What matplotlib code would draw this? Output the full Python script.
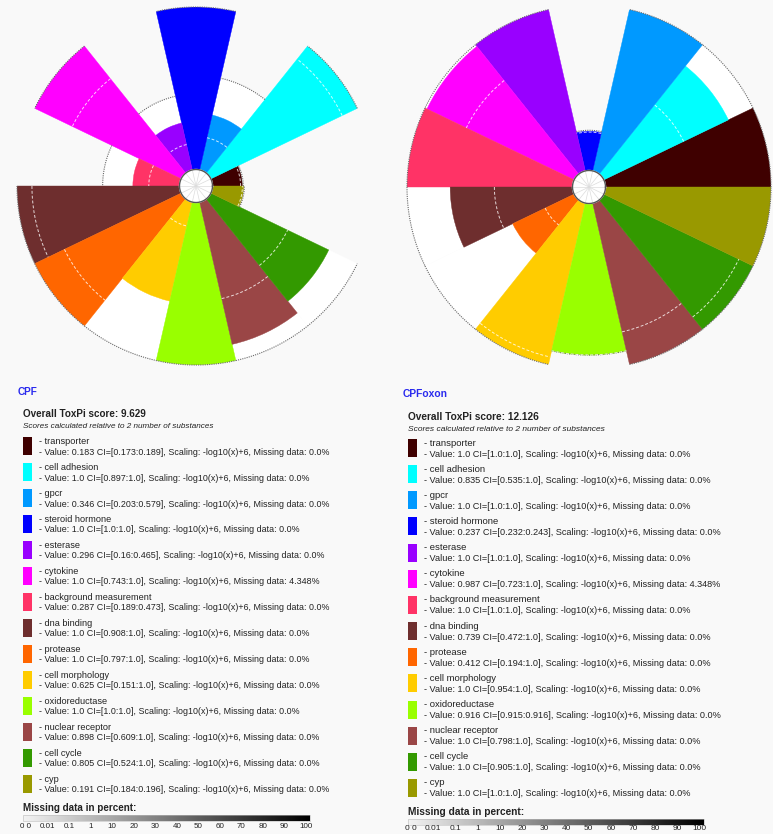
import numpy as np
import matplotlib
matplotlib.use("Agg")
import matplotlib.pyplot as plt

plt.rcParams['font.family'] = ['Liberation Sans', 'DejaVu Sans']

categories = ['transporter', 'cell adhesion', 'gpcr', 'steroid hormone', 'esterase',
              'cytokine', 'background measurement', 'dna binding', 'protease',
              'cell morphology', 'oxidoreductase', 'nuclear receptor', 'cell cycle', 'cyp']
colors = ['#3f0000', '#00ffff', '#0099ff', '#0000ff', '#9900ff', '#ff00ff', '#ff3366',
          '#6e2e2e', '#ff6600', '#ffcc00', '#99ff00', '#9a4646', '#339900', '#999900']

cpf_value = [0.183, 1.0, 0.346, 1.0, 0.296, 1.0, 0.287, 1.0, 1.0, 0.625, 1.0, 0.898, 0.805, 0.191]
cpf_lo = [0.173, 0.897, 0.203, 1.0, 0.16, 0.743, 0.189, 0.908, 0.797, 0.151, 1.0, 0.609, 0.524, 0.184]
cpf_hi = [0.189, 1.0, 0.579, 1.0, 0.465, 1.0, 0.473, 1.0, 1.0, 1.0, 1.0, 1.0, 1.0, 0.196]
cpf_missing = [0.0, 0.0, 0.0, 0.0, 0.0, 4.348, 0.0, 0.0, 0.0, 0.0, 0.0, 0.0, 0.0, 0.0]

oxon_value = [1.0, 0.835, 1.0, 0.237, 1.0, 0.987, 1.0, 0.739, 0.412, 1.0, 0.916, 1.0, 1.0, 1.0]
oxon_lo = [1.0, 0.535, 1.0, 0.232, 1.0, 0.723, 1.0, 0.472, 0.194, 0.954, 0.915, 0.798, 0.905, 1.0]
oxon_hi = [1.0, 1.0, 1.0, 0.243, 1.0, 1.0, 1.0, 1.0, 1.0, 1.0, 0.916, 1.0, 1.0, 1.0]
oxon_missing = [0.0, 0.0, 0.0, 0.0, 0.0, 4.348, 0.0, 0.0, 0.0, 0.0, 0.0, 0.0, 0.0, 0.0]

names = ['CPF', 'CPFoxon']
scores = ['9.629', '12.126']
bar_labels = ['0 0', '0.01', '0.1', '1', '10', '20', '30', '40', '50', '60', '70', '80', '90', '100']

W, H = 773, 834
fig = plt.figure(figsize=(W / 100, H / 100), dpi=100)
fig.patch.set_facecolor('#f9f9f9')

n = len(categories)
step = 2 * np.pi / n
theta = np.arange(n) * step + step / 2


def toxpi(cx, cy, R, value, lo, hi):
    ax = fig.add_axes([(cx - R) / W, (H - cy - R) / H, 2 * R / W, 2 * R / H], projection='polar')
    r0 = 16.5 / R
    scale = 1 - r0
    ax.set_ylim(0, 1)
    ax.set_axis_off()
    # white area up to the upper CI, coloured slice up to the value
    ax.bar(theta, np.array(hi) * scale, width=step, bottom=r0, color='white',
           edgecolor='white', linewidth=0.3)
    ax.bar(theta, np.array(value) * scale, width=step, bottom=r0, color=colors,
           edgecolor=colors, linewidth=0.3)
    for i in range(n):
        t = np.linspace(i * step, (i + 1) * step, 40)
        ax.plot(t, np.full_like(t, r0 + hi[i] * scale), color='#6a6a6a', lw=0.8,
                ls=(0, (1, 1)), clip_on=False)
        if lo[i] < value[i]:
            ax.plot(t, np.full_like(t, r0 + lo[i] * scale), color='white', lw=0.7,
                    ls=(0, (3, 2)), alpha=0.8)
    tc = np.linspace(0, 2 * np.pi, 100)
    ax.fill(tc, np.full_like(tc, r0), color='white', zorder=3)
    for i in range(n):
        ax.plot([i * step, i * step], [0, r0], color='#dcdcdc', lw=0.5, zorder=4)
    ax.plot(tc, np.full_like(tc, r0), color='#555555', lw=1.0, zorder=5)


toxpi(196, 186, 179, cpf_value, cpf_lo, cpf_hi)
toxpi(589, 187, 182, oxon_value, oxon_lo, oxon_hi)

tx = fig.add_axes([0, 0, 1, 1])
tx.set_xlim(0, W)
tx.set_ylim(H, 0)
tx.set_axis_off()


def legend(x0, y0, k, dy, name, score, value, lo, hi, missing, fs, lab_off):
    tc = '#222222'
    tx.text(x0 - 5, y0, name, color='#2a2aee', fontsize=7.2 * k, fontweight='bold', va='center')
    tx.text(x0, y0 + 22 * k, 'Overall ToxPi score: ' + score, color=tc, fontsize=7.1 * k,
            fontweight='bold', va='center')
    tx.text(x0, y0 + 34.5 * k, 'Scores calculated relative to 2 number of substances',
            color=tc, fontsize=5.9 * k, style='italic', va='center')
    ys = y0 + 49
    for i in range(n):
        y = ys + i * dy
        tx.add_patch(plt.Rectangle((x0, y - 4), 8.5, 18, facecolor=colors[i], edgecolor='none'))
        tx.text(x0 + 16, y, '- ' + categories[i], color=tc, fontsize=fs + 0.2, va='center')
        tx.text(x0 + 16, y + 11, f'- Value: {value[i]} CI=[{lo[i]}:{hi[i]}], Scaling: '
                f'-log10(x)+6, Missing data: {missing[i]}%', color=tc, fontsize=fs, va='center')
    ym = ys + 13 * dy + 29
    tx.text(x0, ym, 'Missing data in percent:', color=tc, fontsize=7.1 * k,
            fontweight='bold', va='center')
    x1 = x0 + 287 * k
    grad = np.linspace(0, 1, 256).reshape(1, -1)
    tx.imshow(grad, cmap='gray_r', extent=[x0, x1, ym + 13, ym + 7], aspect='auto',
              vmin=-0.05, vmax=1)
    tx.add_patch(plt.Rectangle((x0, ym + 7), x1 - x0, 6, facecolor='none',
                               edgecolor='#bbbbbb', lw=0.4))
    pos = np.linspace(x0 + 3, x1 - 4, len(bar_labels))
    for p, lab in zip(pos, bar_labels):
        tx.text(p, ym + lab_off, lab, color=tc, fontsize=5.8 * k, ha='center', va='center')


legend(23, 392, 1.0, 26.0, names[0], scores[0], cpf_value, cpf_lo, cpf_hi, cpf_missing, 6.4, 19)
legend(408, 394, 1.03, 26.15, names[1], scores[1], oxon_value, oxon_lo, oxon_hi, oxon_missing,
       6.6, 17)

tx.set_xlim(0, W)
tx.set_ylim(H, 0)
fig.savefig('out.png', dpi=100, facecolor=fig.get_facecolor())
